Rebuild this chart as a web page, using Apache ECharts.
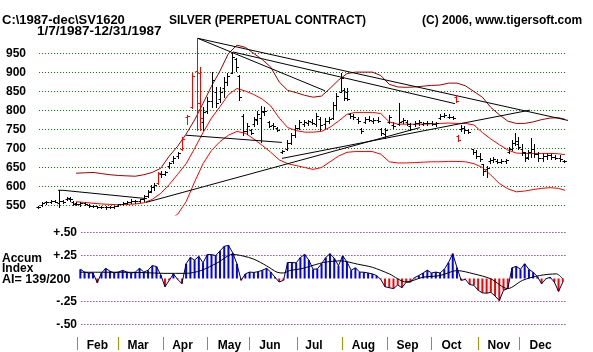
<!DOCTYPE html>
<html>
<head>
<meta charset="utf-8">
<script src="https://cdn.jsdelivr.net/npm/echarts@6/dist/echarts.min.js"></script>
<style>
html, body { margin: 0; padding: 0; background: #fff; }
#chart { width: 593px; height: 352px; }
</style>
</head>
<body>
<div id="chart"></div>
<script>
// x = trading day counted from Jan 7 1987 (0) to Dec 31 1987 (~250)
const priceTicks = [550, 600, 650, 700, 750, 800, 850, 900, 950];
const aiTicks = [-0.5, -0.25, 0.25, 0.5];
const monthNames = ['Feb', 'Mar', 'Apr', 'May', 'Jun', 'Jul', 'Aug', 'Sep', 'Oct', 'Nov', 'Dec'];
const monthStarts = [18.4, 37.8, 59.1, 79.9, 99.7, 122.4, 143.7, 164.9, 185.7, 207.9, 227.3];
const monthMids = [28.1, 47.3, 68.3, 90.5, 109.6, 130.4, 153.8, 174.6, 195.4, 217.8, 237.5];

// price bars: [day, open, high, low, close]
const bars = [
  [0, 545, 548, 543, 546], [2, 552, 558, 550, 556], [4, 558, 562, 555, 560], [6, 560, 564, 557, 562],
  [8, 562, 565, 558, 560], [10, 556, 590, 546, 561], [12, 561, 564, 557, 560], [13.5, 566, 572, 564, 570],
  [15, 568, 572, 563, 566], [16.5, 560, 562, 552, 555], [18, 556, 559, 551, 553], [20, 553, 558, 550, 556],
  [22, 556, 560, 552, 555], [24, 552, 555, 547, 549], [26, 549, 552, 546, 548], [28, 548, 550, 544, 546],
  [30, 547, 550, 543, 545], [32, 545, 549, 542, 547], [34, 547, 550, 544, 546], [36, 546, 549, 543, 548],
  [38, 550, 555, 548, 553], [40, 554, 558, 551, 556], [42, 557, 562, 554, 560], [44, 560, 566, 556, 562],
  [46, 561, 565, 557, 563], [48, 563, 568, 560, 566], [50, 566, 577, 563, 574], [52, 575, 590, 573, 586],
  [53.5, 588, 603, 585, 598], [55, 598, 610, 592, 605], [56.5, 610, 637, 606, 635], [58, 632, 640, 626, 634],
  [60, 634, 640, 630, 637], [62, 655, 664, 650, 662], [64, 668, 680, 663, 676], [66, 680, 692, 675, 688],
  [68, 700, 729, 695, 725], [70.5, 784, 788, 765, 786], [73, 810, 900, 806, 890], [75.3, 905, 990, 748, 820],
  [76.5, 900, 914, 750, 780], [78, 770, 808, 748, 795], [80, 800, 835, 793, 825], [82, 825, 901, 808, 880],
  [84, 850, 861, 808, 820], [86, 830, 861, 822, 850], [88, 860, 888, 835, 875], [89.5, 875, 898, 866, 890],
  [91.5, 900, 955, 898, 940], [93.5, 935, 937, 905, 915], [95, 890, 893, 827, 835], [97, 785, 790, 735, 745],
  [99, 745, 768, 738, 760], [100.5, 748, 752, 738, 742], [102, 765, 782, 760, 778], [103.5, 775, 800, 765, 790],
  [105.5, 780, 813, 717, 800], [107, 795, 808, 787, 800], [109, 770, 772, 756, 760], [111, 762, 768, 752, 758],
  [113, 755, 757, 746, 750], [115.5, 692, 696, 688, 693], [117.5, 700, 722, 695, 715], [119.5, 715, 742, 712, 735],
  [121.5, 735, 762, 730, 755], [123.5, 755, 775, 752, 770], [125.5, 765, 775, 760, 770], [127.5, 768, 775, 762, 772],
  [129.5, 770, 778, 764, 768], [131.5, 765, 793, 760, 785], [133.5, 778, 782, 750, 762], [135.5, 765, 780, 755, 772],
  [137.5, 772, 782, 768, 778], [139.5, 780, 822, 778, 815], [141, 815, 845, 805, 838], [143, 850, 898, 848, 885],
  [144.5, 855, 858, 827, 832], [146, 850, 858, 827, 830], [147.5, 790, 793, 780, 785], [149, 785, 790, 778, 782],
  [151, 778, 782, 767, 772], [152.7, 752, 755, 742, 745], [154.5, 770, 782, 767, 778], [156.5, 778, 785, 772, 775],
  [158.5, 772, 780, 768, 776], [160.5, 775, 782, 770, 773], [162, 752, 755, 735, 740], [164, 738, 755, 728, 748],
  [166, 770, 787, 767, 782], [168, 763, 769, 755, 760], [170.5, 765, 820, 761, 770], [172.5, 772, 780, 767, 776],
  [174.5, 770, 775, 762, 765], [176, 760, 767, 748, 752], [178, 765, 772, 760, 768], [180, 768, 775, 762, 770],
  [182, 765, 770, 761, 766], [184, 766, 772, 762, 768], [186, 768, 773, 763, 765], [188, 764, 769, 760, 766],
  [190, 780, 790, 778, 786], [192, 786, 793, 782, 788], [194, 784, 790, 780, 782], [196, 782, 786, 778, 780],
  [197.5, 835, 840, 822, 826], [198.5, 733, 735, 720, 722], [200, 752, 761, 745, 755], [201.5, 755, 760, 742, 748],
  [203, 748, 752, 740, 744], [205.5, 700, 700, 685, 690], [207, 690, 697, 674, 680], [209, 680, 687, 668, 672],
  [210.5, 660, 660, 630, 640], [212, 645, 655, 625, 650], [213.5, 668, 676, 663, 670], [215, 670, 677, 665, 672],
  [217, 668, 673, 663, 665], [219, 665, 673, 662, 668], [221, 666, 672, 663, 670], [222.5, 690, 705, 687, 700],
  [224, 700, 722, 695, 715], [225.5, 715, 740, 708, 720], [227, 712, 730, 700, 705], [228.5, 700, 713, 682, 690],
  [230, 688, 690, 668, 675], [231.5, 678, 695, 673, 690], [233, 690, 727, 677, 700], [234.5, 700, 713, 677, 685],
  [236.5, 685, 690, 668, 675], [238.5, 676, 687, 668, 680], [240.5, 680, 687, 673, 682], [242.5, 682, 687, 673, 678],
  [244.5, 678, 682, 673, 676], [246.5, 676, 682, 668, 672], [248.5, 668, 670, 665, 667]
];
const redBarDays = [56.5, 68, 70.5, 73, 75.3, 76.5, 197.5, 198.5];

// bands
const bandDays = [18, 22, 26, 30, 34, 38, 42, 46, 50, 54, 58, 62, 66, 70, 74, 78, 82, 86, 90, 94, 98,
  102, 106, 110, 114, 118, 122, 126, 130, 134, 138, 142, 146, 150, 154, 158, 162, 166, 170, 174, 178,
  182, 186, 190, 194, 198, 202, 206, 210, 214, 218, 222, 226, 230, 234, 238, 242, 246, 249];
const upperBand = [635, 636, 637, 634, 631, 629, 628, 627, 631, 637, 648, 680, 706, 738, 775, 819, 864, 904, 950, 972, 966,
  950, 934, 914, 875, 853, 847, 840, 835, 838, 858, 880, 897, 901, 901, 901, 892, 869, 862, 861, 862,
  864, 866, 867, 872, 872, 865, 850, 835, 808, 789, 772, 766, 766, 770, 776, 780, 781, 777];
const midBand = [560, 558, 556, 554, 553, 552, 553, 554, 557, 566, 582, 605, 632, 660, 700, 742, 780, 810, 842, 858, 851,
  842, 830, 812, 780, 755, 747, 743, 743, 745, 756, 772, 790, 795, 795, 795, 792, 770, 764, 764, 764,
  764, 765, 766, 767, 766, 766, 762, 742, 725, 710, 696, 688, 687, 687, 687, 687, 686, 684];
const lowerBand = [null, null, null, null, null, null, null, null, null, null, null, 512, 527, 560, 612, 660, 695, 718, 735, 745, 740,
  725, 708, 690, 670, 660, 655, 650, 645, 650, 665, 680, 690, 692, 692, 692, 685, 665, 662, 662, 663,
  664, 665, 665, 666, 666, 665, 660, 650, 630, 608, 594, 586, 588, 592, 595, 597, 595, 590];

// trend lines [day, price]
const trendA = [[75.5, 990], [260.9, 761]];
const trendB = [[75.5, 990], [135.6, 852]];
const trendC = [[92.2, 954], [197.1, 818]];
const trendD1 = [[51.0, 558], [180.5, 755]];
const trendD2 = [[115.3, 674], [232.5, 801]];
const trendE = [[69.9, 735], [115.3, 716]];
const trendF = [[9.5, 590], [11.8, 590], [51.5, 568]];

// accumulation index, every 2nd trading day from day 20
const aiFirstDay = 20;
const aiValues = [0.1, 0.07, 0.06, 0.06, -0.046, 0.06, 0.11, 0.08, 0.06, 0.07,
  0.088, 0.07, 0.056, 0.07, 0.11, 0.07, 0.09, 0.14, 0.13, 0.04,
  -0.09, -0.02, 0.05, -0.01, -0.056, 0.16, 0.228, 0.2, 0.24, 0.17,
  0.26, 0.26, 0.25, 0.3, 0.35, 0.36, 0.28, 0.16, -0.02, 0.05,
  0.07, 0.066, 0.074, 0.09, 0.11, 0.07, 0.014, -0.038, -0.02, 0.174,
  0.174, 0.17, 0.228, 0.262, 0.2, 0.1, 0.104, 0.16, 0.228, 0.27,
  0.22, 0.14, 0.246, 0.18, 0.09, 0.116, 0.07, 0.068, 0.06, 0.05,
  0.032, -0.01, -0.09, -0.1, -0.11, -0.07, -0.1, -0.04, -0.04, 0.01,
  0.032, 0.06, 0.09, 0.06, 0.07, 0.06, 0.1, 0.174, 0.27, 0.12,
  -0.02, -0.01, -0.066, -0.074, -0.128, -0.156, -0.16, -0.15, -0.19, -0.24,
  -0.128, -0.11, 0.116, 0.132, 0.1, 0.16, 0.1, 0.068, 0.02, -0.056,
  -0.004, 0.014, -0.038, -0.14, -0.04];
const aiMaDays = [20, 30, 40, 50, 60, 70, 77, 85, 92, 97, 102, 108, 113, 116, 119, 124, 127, 135, 143, 151,
  158, 166, 174, 182, 190, 198, 206, 214, 222, 229, 237, 245, 248];
const aiMa = [0.068, 0.068, 0.068, 0.064, 0.056, 0.056, 0.086, 0.174, 0.262, 0.244, 0.21, 0.138, 0.068, 0.06, 0.086,
  0.104, 0.122, 0.174, 0.192, 0.156, 0.122, 0.05, -0.038, 0.014, 0.032, 0.086, 0.05, -0.004, -0.11,
  -0.02, 0.032, 0.05, -0.004];

const FONT = 'Liberation Sans';
const chart = echarts.init(document.getElementById('chart'));

function pairs(xs, ys) {
  return xs.map((x, i) => [x, ys[i]]);
}
const aiData = aiValues.map((v, i) => [aiFirstDay + 2 * i, v]);

function trendSeries(data, clip) {
  return {
    type: 'line', xAxisIndex: 0, yAxisIndex: 0, data: data, symbol: 'none',
    clip: clip, silent: true, z: 3,
    lineStyle: { color: '#000', width: 1 }
  };
}

// dotted horizontal grid lines, drawn as plain line series
function gridSeries(axisIndex, from, to, v, color) {
  return {
    type: 'line', xAxisIndex: axisIndex, yAxisIndex: axisIndex, data: [[from, v], [to, v]],
    symbol: 'none', silent: true, z: 1, clip: false,
    lineStyle: { color: color, width: 1, type: [1, 2] }
  };
}

const option = {
  animation: false,
  backgroundColor: '#fff',
  grid: [
    { left: 38, top: 34.5, width: 529, height: 180.5 },
    { left: 81, top: 232.5, width: 486, height: 92 },
    { left: 38, top: 337, width: 529, height: 13 }
  ],
  xAxis: [
    { gridIndex: 0, type: 'value', min: 0, max: 250, show: false },
    { gridIndex: 1, type: 'value', min: 20.32, max: 250, show: false },
    {
      gridIndex: 2, type: 'value', min: 0, max: 250, position: 'bottom',
      axisLine: { show: false },
      splitLine: { show: false },
      axisTick: { show: true, inside: true, length: 13, customValues: monthStarts,
        lineStyle: { color: '#9a9a00', width: 1 } },
      axisLabel: {
        customValues: monthMids, margin: -4, verticalAlign: 'middle',
        color: '#000', fontFamily: FONT, fontWeight: 'bold', fontSize: 12,
        formatter: v => monthNames[monthMids.findIndex(m => Math.abs(m - v) < 0.01)] || ''
      }
    }
  ],
  yAxis: [
    {
      gridIndex: 0, type: 'value', min: 525, max: 1000,
      axisLine: { show: false }, axisTick: { show: false }, splitLine: { show: false },
      axisLabel: { customValues: priceTicks, margin: 12, color: '#000',
        fontFamily: FONT, fontWeight: 'bold', fontSize: 12 }
    },
    {
      gridIndex: 1, type: 'value', min: -0.5, max: 0.5,
      axisLine: { show: false }, axisTick: { show: false }, splitLine: { show: false },
      axisLabel: { customValues: aiTicks, margin: 4, color: '#000',
        fontFamily: FONT, fontWeight: 'bold', fontSize: 12,
        formatter: v => (v > 0 ? '+' : '-') + '.' + String(Math.round(Math.abs(v) * 100)) }
    },
    { gridIndex: 2, type: 'value', show: false }
  ],
  graphic: [
    { type: 'text', x: 2, y: 20.5, style: { text: 'C:\\1987-dec\\SV1620', font: 'bold 13px ' + FONT, fill: '#000', verticalAlign: 'middle' } },
    { type: 'text', x: 37, y: 31, style: { text: '1/7/1987-12/31/1987', font: 'bold 13.5px ' + FONT, fill: '#000', verticalAlign: 'middle' } },
    { type: 'text', x: 169, y: 20.5, style: { text: 'SILVER (PERPETUAL CONTRACT)', font: 'bold 12px ' + FONT, fill: '#000', verticalAlign: 'middle' } },
    { type: 'text', x: 422, y: 20.5, style: { text: '(C) 2006, www.tigersoft.com', font: 'bold 12px ' + FONT, fill: '#000', verticalAlign: 'middle' } },
    { type: 'text', x: 2, y: 259, style: { text: 'Accum', font: 'bold 12px ' + FONT, fill: '#000', verticalAlign: 'middle' } },
    { type: 'text', x: 2, y: 269, style: { text: 'Index', font: 'bold 12px ' + FONT, fill: '#000', verticalAlign: 'middle' } },
    { type: 'text', x: 2, y: 279.5, style: { text: 'AI= 139/200', font: 'bold 12.5px ' + FONT, fill: '#000', verticalAlign: 'middle' } }
  ],
  series: [
    ...priceTicks.map(v => gridSeries(0, 0.5, 249.5, v, '#008000')),
    ...aiTicks.map(v => gridSeries(1, 20.5, 249.5, v, '#600060')),
    // price bands
    {
      type: 'line', xAxisIndex: 0, yAxisIndex: 0, data: pairs(bandDays, upperBand),
      symbol: 'none', silent: true, z: 2, lineStyle: { color: '#a00000', width: 1 }
    },
    {
      type: 'line', xAxisIndex: 0, yAxisIndex: 0, data: pairs(bandDays, midBand),
      symbol: 'none', silent: true, z: 2, lineStyle: { color: '#ff0000', width: 1 }
    },
    {
      type: 'line', xAxisIndex: 0, yAxisIndex: 0, data: pairs(bandDays, lowerBand),
      symbol: 'none', silent: true, z: 2, lineStyle: { color: '#ff0000', width: 1 }
    },
    trendSeries(trendA, false),
    trendSeries(trendB, true),
    trendSeries(trendC, true),
    trendSeries(trendD1, true),
    trendSeries(trendD2, true),
    trendSeries(trendE, true),
    trendSeries(trendF, true),
    // OHLC bars
    {
      type: 'custom', xAxisIndex: 0, yAxisIndex: 0, data: bars, z: 4, silent: true,
      encode: { x: 0, y: [1, 2, 3, 4] },
      renderItem: function (params, api) {
        const t = api.value(0);
        const pO = api.coord([t, api.value(1)]);
        const pH = api.coord([t, api.value(2)]);
        const pL = api.coord([t, api.value(3)]);
        const pC = api.coord([t, api.value(4)]);
        const x = Math.round(pH[0]) + 0.5;
        const color = redBarDays.indexOf(t) >= 0 ? '#ff0000' : '#000000';
        const st = { stroke: color, lineWidth: 1 };
        const yo = Math.round(pO[1]) + 0.5;
        const yc = Math.round(pC[1]) + 0.5;
        return {
          type: 'group',
          children: [
            { type: 'line', shape: { x1: x, y1: Math.round(pH[1]), x2: x, y2: Math.round(pL[1]) + 1 }, style: st },
            { type: 'line', shape: { x1: x - 2, y1: yo, x2: x, y2: yo }, style: st },
            { type: 'line', shape: { x1: x, y1: yc, x2: x + 2.5, y2: yc }, style: st }
          ]
        };
      }
    },
    // accumulation index
    {
      type: 'bar', xAxisIndex: 1, yAxisIndex: 1, data: aiData, barWidth: 2, silent: true,
      itemStyle: { color: p => (p.value[1] >= 0 ? '#0000ff' : '#ff0000') }
    },
    {
      type: 'line', xAxisIndex: 1, yAxisIndex: 1, data: aiData, symbol: 'none', silent: true,
      lineStyle: { color: '#000040', width: 1 }, z: 3
    },
    {
      type: 'line', xAxisIndex: 1, yAxisIndex: 1, data: pairs(aiMaDays, aiMa), symbol: 'none',
      smooth: 0.3, silent: true, lineStyle: { color: '#000', width: 1 }, z: 4
    },
    { type: 'line', xAxisIndex: 2, yAxisIndex: 2, data: [] }
  ]
};

chart.setOption(option);
</script>
</body>
</html>
